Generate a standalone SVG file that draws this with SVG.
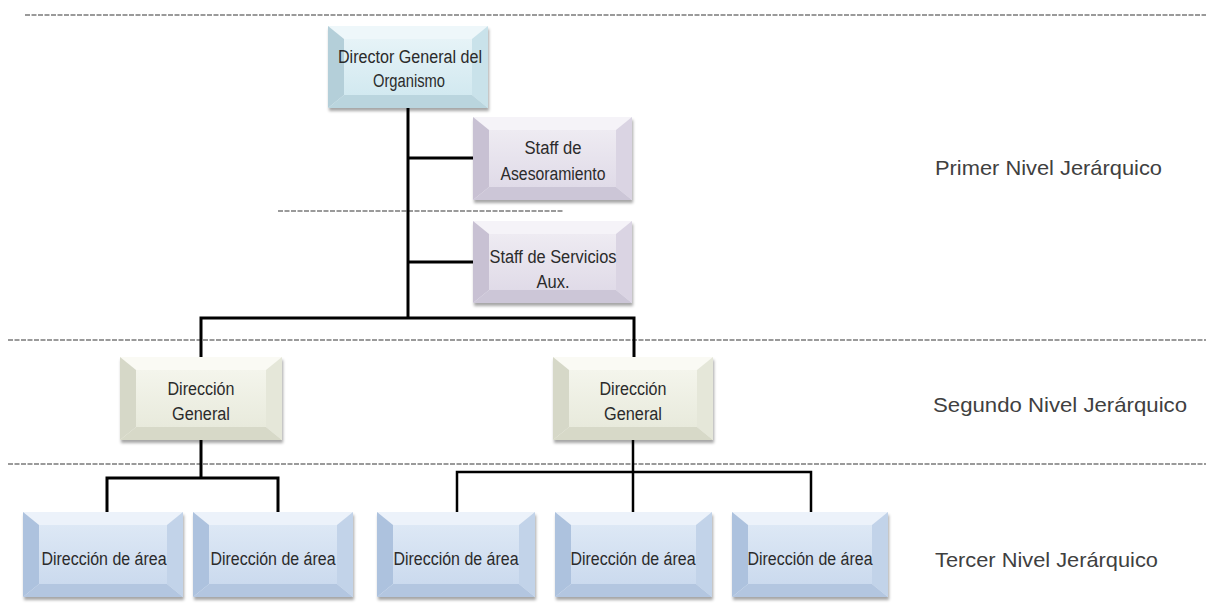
<svg xmlns="http://www.w3.org/2000/svg" width="1206" height="603" viewBox="0 0 1206 603">
  <defs>
    <filter id="shadow" x="-10%" y="-10%" width="125%" height="135%">
      <feDropShadow dx="1" dy="3" stdDeviation="1.6" flood-color="#000" flood-opacity="0.35"/>
    </filter>
    <linearGradient id="faceCyan" x1="0" y1="0" x2="0" y2="1">
      <stop offset="0" stop-color="#e6f3f7"/><stop offset="1" stop-color="#d2e9f0"/>
    </linearGradient>
    <linearGradient id="faceLav" x1="0" y1="0" x2="0" y2="1">
      <stop offset="0" stop-color="#eeebf2"/><stop offset="1" stop-color="#e0dbe8"/>
    </linearGradient>
    <linearGradient id="faceGreen" x1="0" y1="0" x2="0" y2="1">
      <stop offset="0" stop-color="#f4f5ec"/><stop offset="1" stop-color="#e8eadc"/>
    </linearGradient>
    <linearGradient id="faceBlue" x1="0" y1="0" x2="0" y2="1">
      <stop offset="0" stop-color="#dde8f5"/><stop offset="1" stop-color="#cbdaee"/>
    </linearGradient>
  </defs>
  <style>
    .base { filter: url(#shadow); }
    .cyan .base, .cyan .top { fill: #eef7fa; }
    .cyan .left { fill: #b4cfd9; }
    .cyan .right { fill: #c9e2ea; }
    .cyan .bot { fill: #bad5de; }
    .cyan .face { fill: url(#faceCyan); }
    .lav .base, .lav .top { fill: #f5f3f8; }
    .lav .left { fill: #c8c1d3; }
    .lav .right { fill: #dad4e3; }
    .lav .bot { fill: #ccc6d7; }
    .lav .face { fill: url(#faceLav); }
    .green .base, .green .top { fill: #fafaf4; }
    .green .left { fill: #d6d8c8; }
    .green .right { fill: #e5e7d9; }
    .green .bot { fill: #d7d9c8; }
    .green .face { fill: url(#faceGreen); }
    .blue .base, .blue .top { fill: #ecf2fa; }
    .blue .left { fill: #adc2de; }
    .blue .right { fill: #c2d3e9; }
    .blue .bot { fill: #b3c6e0; }
    .blue .face { fill: url(#faceBlue); }
    .lbl { font-family: "Liberation Sans", Arial, sans-serif; font-size: 18px; fill: #2b2b2b; text-anchor: middle; }
    .lvl { font-family: "Liberation Sans", Arial, sans-serif; font-size: 21px; fill: #404040; }
    .sep { stroke: #7a7a7a; stroke-width: 1.6; stroke-dasharray: 5 1.5; fill: none; }
    .link { stroke: #000; stroke-width: 3; fill: none; }
    .thin { stroke-width: 2.5; }
  </style>

  <!-- level separators -->
  <g id="separators">
    <line class="sep" x1="25" y1="15" x2="1206" y2="15"/>
    <line class="sep" x1="278" y1="211" x2="563" y2="211"/>
    <line class="sep" x1="8" y1="340" x2="1206" y2="340"/>
    <line class="sep" x1="8" y1="464" x2="1206" y2="464"/>
  </g>

  <!-- connectors -->
  <g id="connectors">
    <path class="link" d="M408 108 V318"/>
    <path class="link" d="M408 158 H473"/>
    <path class="link" d="M408 262 H473"/>
    <path class="link" d="M201 357 V318 H634 V357"/>
    <path class="link" d="M201 440 V478"/>
    <path class="link" d="M107 512 V478 H278 V512"/>
    <path class="link thin" d="M633 440 V512"/>
    <path class="link thin" d="M457 512 V472 H811 V512"/>
  </g>

  <!-- first level -->
  <g id="director" class="cyan">
    <rect class="base" x="328" y="26" width="160" height="82"/>
    <polygon class="top" points="328,26 488,26 472,39 344,39"/>
    <polygon class="left" points="328,26 344,39 344,95 328,108"/>
    <polygon class="right" points="488,26 488,108 472,95 472,39"/>
    <polygon class="bot" points="328,108 344,95 472,95 488,108"/>
    <rect class="face" x="344" y="39" width="128" height="56"/>
    <text class="lbl" x="410" y="63" textLength="144" lengthAdjust="spacingAndGlyphs">Director General del</text>
    <text class="lbl" x="409" y="87" textLength="72" lengthAdjust="spacingAndGlyphs">Organismo</text>
  </g>

  <g id="staff-asesoramiento" class="lav">
    <rect class="base" x="473" y="117" width="159" height="83"/>
    <polygon class="top" points="473,117 632,117 616,130 489,130"/>
    <polygon class="left" points="473,117 489,130 489,187 473,200"/>
    <polygon class="right" points="632,117 632,200 616,187 616,130"/>
    <polygon class="bot" points="473,200 489,187 616,187 632,200"/>
    <rect class="face" x="489" y="130" width="127" height="57"/>
    <text class="lbl" x="553" y="154" textLength="57" lengthAdjust="spacingAndGlyphs">Staff de</text>
    <text class="lbl" x="553" y="180" textLength="105" lengthAdjust="spacingAndGlyphs">Asesoramiento</text>
  </g>

  <g id="staff-servicios" class="lav">
    <rect class="base" x="473" y="221" width="159" height="82"/>
    <polygon class="top" points="473,221 632,221 616,234 489,234"/>
    <polygon class="left" points="473,221 489,234 489,290 473,303"/>
    <polygon class="right" points="632,221 632,303 616,290 616,234"/>
    <polygon class="bot" points="473,303 489,290 616,290 632,303"/>
    <rect class="face" x="489" y="234" width="127" height="56"/>
    <text class="lbl" x="553" y="263" textLength="127" lengthAdjust="spacingAndGlyphs">Staff de Servicios</text>
    <text class="lbl" x="553" y="288" textLength="33" lengthAdjust="spacingAndGlyphs">Aux.</text>
  </g>

  <!-- second level -->
  <g id="direccion-general-1" class="green">
    <rect class="base" x="120" y="357" width="162" height="83"/>
    <polygon class="top" points="120,357 282,357 266,370 136,370"/>
    <polygon class="left" points="120,357 136,370 136,427 120,440"/>
    <polygon class="right" points="282,357 282,440 266,427 266,370"/>
    <polygon class="bot" points="120,440 136,427 266,427 282,440"/>
    <rect class="face" x="136" y="370" width="130" height="57"/>
    <text class="lbl" x="201" y="395" textLength="67" lengthAdjust="spacingAndGlyphs">Dirección</text>
    <text class="lbl" x="201" y="420" textLength="58" lengthAdjust="spacingAndGlyphs">General</text>
  </g>

  <g id="direccion-general-2" class="green">
    <rect class="base" x="553" y="357" width="160" height="83"/>
    <polygon class="top" points="553,357 713,357 697,370 569,370"/>
    <polygon class="left" points="553,357 569,370 569,427 553,440"/>
    <polygon class="right" points="713,357 713,440 697,427 697,370"/>
    <polygon class="bot" points="553,440 569,427 697,427 713,440"/>
    <rect class="face" x="569" y="370" width="128" height="57"/>
    <text class="lbl" x="633" y="395" textLength="67" lengthAdjust="spacingAndGlyphs">Dirección</text>
    <text class="lbl" x="633" y="420" textLength="58" lengthAdjust="spacingAndGlyphs">General</text>
  </g>

  <!-- third level -->
  <g id="direccion-area-1" class="blue">
    <rect class="base" x="23" y="512" width="160" height="85"/>
    <polygon class="top" points="23,512 183,512 167,525 39,525"/>
    <polygon class="left" points="23,512 39,525 39,584 23,597"/>
    <polygon class="right" points="183,512 183,597 167,584 167,525"/>
    <polygon class="bot" points="23,597 39,584 167,584 183,597"/>
    <rect class="face" x="39" y="525" width="128" height="59"/>
    <text class="lbl" x="104" y="565" textLength="125" lengthAdjust="spacingAndGlyphs">Dirección de área</text>
  </g>

  <g id="direccion-area-2" class="blue">
    <rect class="base" x="193" y="512" width="160" height="85"/>
    <polygon class="top" points="193,512 353,512 337,525 209,525"/>
    <polygon class="left" points="193,512 209,525 209,584 193,597"/>
    <polygon class="right" points="353,512 353,597 337,584 337,525"/>
    <polygon class="bot" points="193,597 209,584 337,584 353,597"/>
    <rect class="face" x="209" y="525" width="128" height="59"/>
    <text class="lbl" x="273" y="565" textLength="125" lengthAdjust="spacingAndGlyphs">Dirección de área</text>
  </g>

  <g id="direccion-area-3" class="blue">
    <rect class="base" x="377" y="512" width="158" height="85"/>
    <polygon class="top" points="377,512 535,512 519,525 393,525"/>
    <polygon class="left" points="377,512 393,525 393,584 377,597"/>
    <polygon class="right" points="535,512 535,597 519,584 519,525"/>
    <polygon class="bot" points="377,597 393,584 519,584 535,597"/>
    <rect class="face" x="393" y="525" width="126" height="59"/>
    <text class="lbl" x="456" y="565" textLength="125" lengthAdjust="spacingAndGlyphs">Dirección de área</text>
  </g>

  <g id="direccion-area-4" class="blue">
    <rect class="base" x="555" y="512" width="157" height="85"/>
    <polygon class="top" points="555,512 712,512 696,525 571,525"/>
    <polygon class="left" points="555,512 571,525 571,584 555,597"/>
    <polygon class="right" points="712,512 712,597 696,584 696,525"/>
    <polygon class="bot" points="555,597 571,584 696,584 712,597"/>
    <rect class="face" x="571" y="525" width="125" height="59"/>
    <text class="lbl" x="633" y="565" textLength="125" lengthAdjust="spacingAndGlyphs">Dirección de área</text>
  </g>

  <g id="direccion-area-5" class="blue">
    <rect class="base" x="732" y="512" width="156" height="85"/>
    <polygon class="top" points="732,512 888,512 872,525 748,525"/>
    <polygon class="left" points="732,512 748,525 748,584 732,597"/>
    <polygon class="right" points="888,512 888,597 872,584 872,525"/>
    <polygon class="bot" points="732,597 748,584 872,584 888,597"/>
    <rect class="face" x="748" y="525" width="124" height="59"/>
    <text class="lbl" x="810" y="565" textLength="125" lengthAdjust="spacingAndGlyphs">Dirección de área</text>
  </g>

  <!-- level captions -->
  <g id="level-labels">
    <text class="lvl" x="935" y="175" textLength="227" lengthAdjust="spacingAndGlyphs">Primer Nivel Jerárquico</text>
    <text class="lvl" x="933" y="412" textLength="254" lengthAdjust="spacingAndGlyphs">Segundo Nivel Jerárquico</text>
    <text class="lvl" x="935" y="567" textLength="223" lengthAdjust="spacingAndGlyphs">Tercer Nivel Jerárquico</text>
  </g>
</svg>
